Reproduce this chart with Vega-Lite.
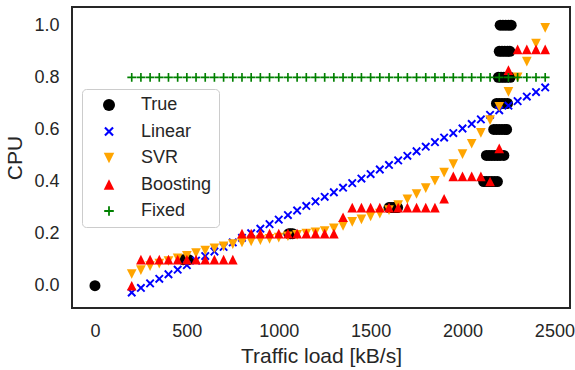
{
  "$schema": "https://vega.github.io/schema/vega-lite/v6.json",
  "width": 498,
  "height": 301,
  "autosize": "none",
  "padding": {"left": 72, "top": 7, "right": 5, "bottom": 62},
  "config": {
    "view": {"stroke": "#262626", "strokeWidth": 2},
    "font": "Liberation Sans",
    "axis": {"domain": false, "grid": false, "ticks": false, "labelFontSize": 18, "labelColor": "#262626", "titleFontSize": 21, "titleColor": "#262626", "titleFontWeight": "normal"}
  },
  "data": {"values": [
    {"model": "True", "load": 0, "cpu": 0},
    {"model": "True", "load": 480, "cpu": 0.1},
    {"model": "True", "load": 495, "cpu": 0.1},
    {"model": "True", "load": 510, "cpu": 0.1},
    {"model": "True", "load": 1055, "cpu": 0.2},
    {"model": "True", "load": 1065, "cpu": 0.2},
    {"model": "True", "load": 1076, "cpu": 0.2},
    {"model": "True", "load": 1600, "cpu": 0.3},
    {"model": "True", "load": 1612, "cpu": 0.3},
    {"model": "True", "load": 1625, "cpu": 0.3},
    {"model": "True", "load": 1637, "cpu": 0.3},
    {"model": "True", "load": 1647, "cpu": 0.3},
    {"model": "True", "load": 2115, "cpu": 0.4},
    {"model": "True", "load": 2130, "cpu": 0.4},
    {"model": "True", "load": 2145, "cpu": 0.4},
    {"model": "True", "load": 2160, "cpu": 0.4},
    {"model": "True", "load": 2175, "cpu": 0.4},
    {"model": "True", "load": 2190, "cpu": 0.4},
    {"model": "True", "load": 2130, "cpu": 0.5},
    {"model": "True", "load": 2145, "cpu": 0.5},
    {"model": "True", "load": 2160, "cpu": 0.5},
    {"model": "True", "load": 2175, "cpu": 0.5},
    {"model": "True", "load": 2190, "cpu": 0.5},
    {"model": "True", "load": 2205, "cpu": 0.5},
    {"model": "True", "load": 2225, "cpu": 0.5},
    {"model": "True", "load": 2170, "cpu": 0.6},
    {"model": "True", "load": 2185, "cpu": 0.6},
    {"model": "True", "load": 2200, "cpu": 0.6},
    {"model": "True", "load": 2215, "cpu": 0.6},
    {"model": "True", "load": 2230, "cpu": 0.6},
    {"model": "True", "load": 2240, "cpu": 0.6},
    {"model": "True", "load": 2185, "cpu": 0.7},
    {"model": "True", "load": 2200, "cpu": 0.7},
    {"model": "True", "load": 2215, "cpu": 0.7},
    {"model": "True", "load": 2230, "cpu": 0.7},
    {"model": "True", "load": 2245, "cpu": 0.7},
    {"model": "True", "load": 2195, "cpu": 0.8},
    {"model": "True", "load": 2210, "cpu": 0.8},
    {"model": "True", "load": 2225, "cpu": 0.8},
    {"model": "True", "load": 2240, "cpu": 0.8},
    {"model": "True", "load": 2260, "cpu": 0.8},
    {"model": "True", "load": 2200, "cpu": 0.9},
    {"model": "True", "load": 2215, "cpu": 0.9},
    {"model": "True", "load": 2230, "cpu": 0.9},
    {"model": "True", "load": 2245, "cpu": 0.9},
    {"model": "True", "load": 2258, "cpu": 0.9},
    {"model": "True", "load": 2205, "cpu": 1.0},
    {"model": "True", "load": 2220, "cpu": 1.0},
    {"model": "True", "load": 2235, "cpu": 1.0},
    {"model": "True", "load": 2250, "cpu": 1.0},
    {"model": "True", "load": 2265, "cpu": 1.0},

    {"model": "Linear", "load": 200, "cpu": -0.026},
    {"model": "Linear", "load": 250, "cpu": -0.0085},
    {"model": "Linear", "load": 300, "cpu": 0.009},
    {"model": "Linear", "load": 350, "cpu": 0.0265},
    {"model": "Linear", "load": 400, "cpu": 0.044},
    {"model": "Linear", "load": 450, "cpu": 0.0615},
    {"model": "Linear", "load": 500, "cpu": 0.079},
    {"model": "Linear", "load": 550, "cpu": 0.0964},
    {"model": "Linear", "load": 600, "cpu": 0.1139},
    {"model": "Linear", "load": 650, "cpu": 0.1314},
    {"model": "Linear", "load": 700, "cpu": 0.1489},
    {"model": "Linear", "load": 750, "cpu": 0.1664},
    {"model": "Linear", "load": 800, "cpu": 0.1839},
    {"model": "Linear", "load": 850, "cpu": 0.2014},
    {"model": "Linear", "load": 900, "cpu": 0.2189},
    {"model": "Linear", "load": 950, "cpu": 0.2364},
    {"model": "Linear", "load": 1000, "cpu": 0.2538},
    {"model": "Linear", "load": 1050, "cpu": 0.2713},
    {"model": "Linear", "load": 1100, "cpu": 0.2888},
    {"model": "Linear", "load": 1150, "cpu": 0.3063},
    {"model": "Linear", "load": 1200, "cpu": 0.3238},
    {"model": "Linear", "load": 1250, "cpu": 0.3413},
    {"model": "Linear", "load": 1300, "cpu": 0.3588},
    {"model": "Linear", "load": 1350, "cpu": 0.3763},
    {"model": "Linear", "load": 1400, "cpu": 0.3938},
    {"model": "Linear", "load": 1450, "cpu": 0.4113},
    {"model": "Linear", "load": 1500, "cpu": 0.4287},
    {"model": "Linear", "load": 1550, "cpu": 0.4462},
    {"model": "Linear", "load": 1600, "cpu": 0.4637},
    {"model": "Linear", "load": 1650, "cpu": 0.4812},
    {"model": "Linear", "load": 1700, "cpu": 0.4987},
    {"model": "Linear", "load": 1750, "cpu": 0.5162},
    {"model": "Linear", "load": 1800, "cpu": 0.5337},
    {"model": "Linear", "load": 1850, "cpu": 0.5512},
    {"model": "Linear", "load": 1900, "cpu": 0.5687},
    {"model": "Linear", "load": 1950, "cpu": 0.5862},
    {"model": "Linear", "load": 2000, "cpu": 0.6036},
    {"model": "Linear", "load": 2050, "cpu": 0.6211},
    {"model": "Linear", "load": 2100, "cpu": 0.6386},
    {"model": "Linear", "load": 2150, "cpu": 0.6561},
    {"model": "Linear", "load": 2200, "cpu": 0.6736},
    {"model": "Linear", "load": 2250, "cpu": 0.6911},
    {"model": "Linear", "load": 2300, "cpu": 0.7086},
    {"model": "Linear", "load": 2350, "cpu": 0.7261},
    {"model": "Linear", "load": 2400, "cpu": 0.7436},
    {"model": "Linear", "load": 2450, "cpu": 0.7611},

    {"model": "SVR", "load": 200, "cpu": 0.045},
    {"model": "SVR", "load": 250, "cpu": 0.06},
    {"model": "SVR", "load": 300, "cpu": 0.075},
    {"model": "SVR", "load": 350, "cpu": 0.085},
    {"model": "SVR", "load": 400, "cpu": 0.095},
    {"model": "SVR", "load": 450, "cpu": 0.105},
    {"model": "SVR", "load": 500, "cpu": 0.115},
    {"model": "SVR", "load": 550, "cpu": 0.125},
    {"model": "SVR", "load": 600, "cpu": 0.135},
    {"model": "SVR", "load": 650, "cpu": 0.144},
    {"model": "SVR", "load": 700, "cpu": 0.151},
    {"model": "SVR", "load": 750, "cpu": 0.16},
    {"model": "SVR", "load": 800, "cpu": 0.166},
    {"model": "SVR", "load": 850, "cpu": 0.17},
    {"model": "SVR", "load": 900, "cpu": 0.175},
    {"model": "SVR", "load": 950, "cpu": 0.18},
    {"model": "SVR", "load": 1000, "cpu": 0.185},
    {"model": "SVR", "load": 1050, "cpu": 0.19},
    {"model": "SVR", "load": 1100, "cpu": 0.195},
    {"model": "SVR", "load": 1150, "cpu": 0.2},
    {"model": "SVR", "load": 1200, "cpu": 0.205},
    {"model": "SVR", "load": 1250, "cpu": 0.21},
    {"model": "SVR", "load": 1300, "cpu": 0.22},
    {"model": "SVR", "load": 1350, "cpu": 0.23},
    {"model": "SVR", "load": 1400, "cpu": 0.245},
    {"model": "SVR", "load": 1450, "cpu": 0.255},
    {"model": "SVR", "load": 1500, "cpu": 0.266},
    {"model": "SVR", "load": 1550, "cpu": 0.277},
    {"model": "SVR", "load": 1600, "cpu": 0.29},
    {"model": "SVR", "load": 1650, "cpu": 0.31},
    {"model": "SVR", "load": 1700, "cpu": 0.332},
    {"model": "SVR", "load": 1750, "cpu": 0.352},
    {"model": "SVR", "load": 1800, "cpu": 0.375},
    {"model": "SVR", "load": 1850, "cpu": 0.403},
    {"model": "SVR", "load": 1900, "cpu": 0.434},
    {"model": "SVR", "load": 1950, "cpu": 0.467},
    {"model": "SVR", "load": 2000, "cpu": 0.505},
    {"model": "SVR", "load": 2050, "cpu": 0.545},
    {"model": "SVR", "load": 2100, "cpu": 0.587},
    {"model": "SVR", "load": 2150, "cpu": 0.636},
    {"model": "SVR", "load": 2200, "cpu": 0.687},
    {"model": "SVR", "load": 2250, "cpu": 0.744},
    {"model": "SVR", "load": 2300, "cpu": 0.8},
    {"model": "SVR", "load": 2350, "cpu": 0.86},
    {"model": "SVR", "load": 2400, "cpu": 0.93},
    {"model": "SVR", "load": 2450, "cpu": 0.99},

    {"model": "Boosting", "load": 200, "cpu": 0.0},
    {"model": "Boosting", "load": 250, "cpu": 0.1},
    {"model": "Boosting", "load": 300, "cpu": 0.1},
    {"model": "Boosting", "load": 350, "cpu": 0.1},
    {"model": "Boosting", "load": 400, "cpu": 0.1},
    {"model": "Boosting", "load": 450, "cpu": 0.1},
    {"model": "Boosting", "load": 500, "cpu": 0.1},
    {"model": "Boosting", "load": 550, "cpu": 0.1},
    {"model": "Boosting", "load": 600, "cpu": 0.1},
    {"model": "Boosting", "load": 650, "cpu": 0.1},
    {"model": "Boosting", "load": 700, "cpu": 0.1},
    {"model": "Boosting", "load": 750, "cpu": 0.1},
    {"model": "Boosting", "load": 800, "cpu": 0.2},
    {"model": "Boosting", "load": 850, "cpu": 0.2},
    {"model": "Boosting", "load": 900, "cpu": 0.2},
    {"model": "Boosting", "load": 950, "cpu": 0.2},
    {"model": "Boosting", "load": 1000, "cpu": 0.2},
    {"model": "Boosting", "load": 1050, "cpu": 0.2},
    {"model": "Boosting", "load": 1100, "cpu": 0.2},
    {"model": "Boosting", "load": 1150, "cpu": 0.2},
    {"model": "Boosting", "load": 1200, "cpu": 0.2},
    {"model": "Boosting", "load": 1250, "cpu": 0.2},
    {"model": "Boosting", "load": 1300, "cpu": 0.2},
    {"model": "Boosting", "load": 1350, "cpu": 0.263},
    {"model": "Boosting", "load": 1400, "cpu": 0.3},
    {"model": "Boosting", "load": 1450, "cpu": 0.3},
    {"model": "Boosting", "load": 1500, "cpu": 0.3},
    {"model": "Boosting", "load": 1550, "cpu": 0.3},
    {"model": "Boosting", "load": 1600, "cpu": 0.3},
    {"model": "Boosting", "load": 1650, "cpu": 0.3},
    {"model": "Boosting", "load": 1700, "cpu": 0.3},
    {"model": "Boosting", "load": 1750, "cpu": 0.3},
    {"model": "Boosting", "load": 1800, "cpu": 0.3},
    {"model": "Boosting", "load": 1850, "cpu": 0.3},
    {"model": "Boosting", "load": 1900, "cpu": 0.334},
    {"model": "Boosting", "load": 1950, "cpu": 0.42},
    {"model": "Boosting", "load": 2000, "cpu": 0.42},
    {"model": "Boosting", "load": 2050, "cpu": 0.42},
    {"model": "Boosting", "load": 2100, "cpu": 0.42},
    {"model": "Boosting", "load": 2150, "cpu": 0.4},
    {"model": "Boosting", "load": 2200, "cpu": 0.527},
    {"model": "Boosting", "load": 2250, "cpu": 0.828},
    {"model": "Boosting", "load": 2300, "cpu": 0.907},
    {"model": "Boosting", "load": 2350, "cpu": 0.907},
    {"model": "Boosting", "load": 2400, "cpu": 0.907},
    {"model": "Boosting", "load": 2450, "cpu": 0.907},

    {"model": "Fixed", "load": 200, "cpu": 0.8},
    {"model": "Fixed", "load": 250, "cpu": 0.8},
    {"model": "Fixed", "load": 300, "cpu": 0.8},
    {"model": "Fixed", "load": 350, "cpu": 0.8},
    {"model": "Fixed", "load": 400, "cpu": 0.8},
    {"model": "Fixed", "load": 450, "cpu": 0.8},
    {"model": "Fixed", "load": 500, "cpu": 0.8},
    {"model": "Fixed", "load": 550, "cpu": 0.8},
    {"model": "Fixed", "load": 600, "cpu": 0.8},
    {"model": "Fixed", "load": 650, "cpu": 0.8},
    {"model": "Fixed", "load": 700, "cpu": 0.8},
    {"model": "Fixed", "load": 750, "cpu": 0.8},
    {"model": "Fixed", "load": 800, "cpu": 0.8},
    {"model": "Fixed", "load": 850, "cpu": 0.8},
    {"model": "Fixed", "load": 900, "cpu": 0.8},
    {"model": "Fixed", "load": 950, "cpu": 0.8},
    {"model": "Fixed", "load": 1000, "cpu": 0.8},
    {"model": "Fixed", "load": 1050, "cpu": 0.8},
    {"model": "Fixed", "load": 1100, "cpu": 0.8},
    {"model": "Fixed", "load": 1150, "cpu": 0.8},
    {"model": "Fixed", "load": 1200, "cpu": 0.8},
    {"model": "Fixed", "load": 1250, "cpu": 0.8},
    {"model": "Fixed", "load": 1300, "cpu": 0.8},
    {"model": "Fixed", "load": 1350, "cpu": 0.8},
    {"model": "Fixed", "load": 1400, "cpu": 0.8},
    {"model": "Fixed", "load": 1450, "cpu": 0.8},
    {"model": "Fixed", "load": 1500, "cpu": 0.8},
    {"model": "Fixed", "load": 1550, "cpu": 0.8},
    {"model": "Fixed", "load": 1600, "cpu": 0.8},
    {"model": "Fixed", "load": 1650, "cpu": 0.8},
    {"model": "Fixed", "load": 1700, "cpu": 0.8},
    {"model": "Fixed", "load": 1750, "cpu": 0.8},
    {"model": "Fixed", "load": 1800, "cpu": 0.8},
    {"model": "Fixed", "load": 1850, "cpu": 0.8},
    {"model": "Fixed", "load": 1900, "cpu": 0.8},
    {"model": "Fixed", "load": 1950, "cpu": 0.8},
    {"model": "Fixed", "load": 2000, "cpu": 0.8},
    {"model": "Fixed", "load": 2050, "cpu": 0.8},
    {"model": "Fixed", "load": 2100, "cpu": 0.8},
    {"model": "Fixed", "load": 2150, "cpu": 0.8},
    {"model": "Fixed", "load": 2200, "cpu": 0.8},
    {"model": "Fixed", "load": 2250, "cpu": 0.8},
    {"model": "Fixed", "load": 2300, "cpu": 0.8},
    {"model": "Fixed", "load": 2350, "cpu": 0.8},
    {"model": "Fixed", "load": 2400, "cpu": 0.8},
    {"model": "Fixed", "load": 2450, "cpu": 0.8}
  ]},
  "mark": {"type": "point", "filled": true, "opacity": 1, "size": 121, "strokeWidth": 0},
  "encoding": {
    "x": {"field": "load", "type": "quantitative",
      "scale": {"domain": [-125, 2585], "nice": false, "zero": false},
      "axis": {"values": [0, 500, 1000, 1500, 2000, 2500], "format": "d", "title": "Traffic load [kB/s]", "labelPadding": 14, "titlePadding": 5}},
    "y": {"field": "cpu", "type": "quantitative",
      "scale": {"domain": [-0.0855, 1.07], "nice": false, "zero": false},
      "axis": {"values": [0, 0.2, 0.4, 0.6, 0.8, 1.0], "format": ".1f", "title": "CPU", "labelPadding": 13, "titlePadding": 8}},
    "color": {"field": "model", "type": "nominal",
      "scale": {"domain": ["True", "Linear", "SVR", "Boosting", "Fixed"], "range": ["#000000", "#0000ff", "#ffa500", "#ff0000", "#008000"]},
      "legend": {"title": null, "orient": "none", "legendX": 10, "legendY": 82, "fillColor": "rgba(255,255,255,0.8)", "strokeColor": "#cccccc", "cornerRadius": 4, "padding": 7, "labelFontSize": 18, "labelColor": "#262626", "symbolSize": 144, "symbolOffset": 11, "labelOffset": 23, "rowPadding": 8.5, "symbolStrokeWidth": 0}},
    "shape": {"field": "model", "type": "nominal",
      "scale": {"domain": ["True", "Linear", "SVR", "Boosting", "Fixed"], "range": ["circle", "M0,-0.25L0.55,-0.8L0.8,-0.55L0.25,0L0.8,0.55L0.55,0.8L0,0.25L-0.55,0.8L-0.8,0.55L-0.25,0L-0.8,-0.55L-0.55,-0.8Z", "M0,0.88L0.88,-0.88L-0.88,-0.88Z", "M0,-0.88L0.88,0.88L-0.88,0.88Z", "M-0.8,-0.15H-0.15V-0.8H0.15V-0.15H0.8V0.15H0.15V0.8H-0.15V0.15H-0.8Z"]},
      "legend": {"title": null, "orient": "none", "legendX": 10, "legendY": 82, "fillColor": "rgba(255,255,255,0.8)", "strokeColor": "#cccccc", "cornerRadius": 4, "padding": 7, "labelFontSize": 18, "labelColor": "#262626", "symbolSize": 144, "symbolOffset": 11, "labelOffset": 23, "rowPadding": 8.5, "symbolStrokeWidth": 0}}
  }
}
